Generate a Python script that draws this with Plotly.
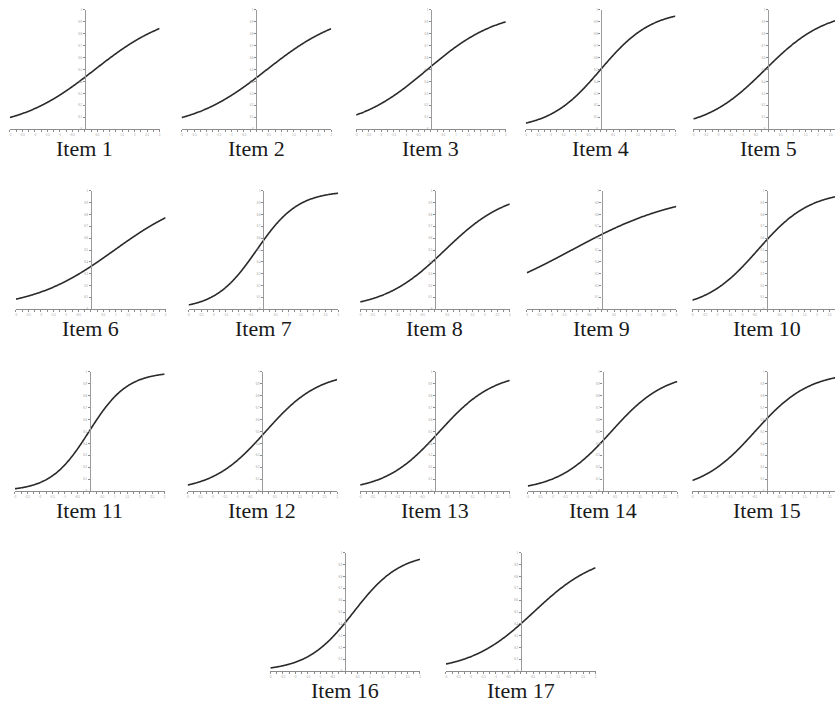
import numpy as np
import plotly.graph_objects as go

# Item characteristic curves (2PL logistic) for 17 items
item_labels = [f"Item {i}" for i in range(1, 18)]
discrimination = [0.65, 0.65, 0.70, 0.97, 0.82, 0.60, 1.20, 0.80, 0.45, 0.95,
                  1.30, 0.93, 0.91, 0.92, 0.92, 1.07, 0.78]
difficulty = [0.40, 0.42, -0.15, 0.00, -0.12, 0.95, -0.27, 0.40, -1.20, -0.38,
              -0.03, 0.13, 0.18, 0.35, -0.49, 0.34, 0.52]

theta = np.linspace(-3, 3, 241)
x_tick_vals = [-3, -2.5, -2, -1.5, -1, -0.5, 0.5, 1, 1.5, 2, 2.5, 3]
y_tick_vals = [0, 0.1, 0.2, 0.3, 0.4, 0.5, 0.6, 0.7, 0.8, 0.9, 1]

# Panel grid in pixels: (top, bottom) per row, x of the theta=0 line per panel
W, H = 836, 704
row_extent = [(8, 128), (190, 309), (372, 492), (554, 673)]
row_centres = [[84, 256, 431, 601, 769],
               [90, 263, 435, 602, 768],
               [89, 262, 435, 603, 768],
               [345, 521]]
HALF_W = 75  # pixels from theta=0 to theta=+/-3

fig = go.Figure()
annotations = []
layout_axes = {}

k = 0
for r, centres in enumerate(row_centres):
    top, bottom = row_extent[r]
    for cx in centres:
        a, b = discrimination[k], difficulty[k]
        p = 1.0 / (1.0 + np.exp(-a * (theta - b)))
        n = k + 1
        xa = "x" if n == 1 else f"x{n}"
        ya = "y" if n == 1 else f"y{n}"
        fig.add_trace(go.Scatter(x=theta, y=p, mode="lines",
                                 line=dict(color="#2a2a2a", width=1.6,
                                           simplify=False),
                                 xaxis=xa, yaxis=ya, hoverinfo="skip",
                                 showlegend=False))
        x0, x1 = cx - HALF_W, cx + HALF_W
        xmax = 3.0
        if x1 > W:
            xmax = -3 + (W - x0) * 6.0 / (2 * HALF_W)
            x1 = W
        xkey = "xaxis" if n == 1 else f"xaxis{n}"
        ykey = "yaxis" if n == 1 else f"yaxis{n}"
        layout_axes[xkey] = dict(
            domain=[x0 / W, x1 / W], range=[-3, xmax], anchor=ya,
            showgrid=False, zeroline=False, showline=True,
            linecolor="#8c8c8c", linewidth=1.2,
            ticks="outside", ticklen=2, tickcolor="#8c8c8c", tickwidth=1,
            tickvals=x_tick_vals, ticktext=[str(v) for v in x_tick_vals],
            ticklabelstandoff=0,
            tickfont=dict(size=3, color="#888", family="Liberation Serif"),
            minor=dict(dtick=0.25, ticks="outside", ticklen=1.5,
                       tickcolor="#8c8c8c", showgrid=False),
            fixedrange=True)
        layout_axes[ykey] = dict(
            domain=[1 - bottom / H, 1 - top / H], range=[0, 1],
            anchor="free", position=cx / W,
            showgrid=False, zeroline=False, showline=True,
            linecolor="#9a9a9a", linewidth=1.4,
            ticks="outside", ticklen=2, tickcolor="#8c8c8c", tickwidth=1,
            tickvals=y_tick_vals, ticktext=[f"{v:g}" for v in y_tick_vals],
            tickfont=dict(size=3, color="#888", family="Liberation Serif"),
            fixedrange=True)
        annotations.append(dict(
            text=item_labels[k], x=cx / W,
            y=1 - (bottom + 19) / H, xref="paper", yref="paper",
            xanchor="center", yanchor="middle", showarrow=False,
            font=dict(family="Liberation Serif", size=22, color="#1a1a1a")))
        k += 1

fig.update_layout(width=W, height=H, margin=dict(l=0, r=0, t=0, b=0),
                  paper_bgcolor="white", plot_bgcolor="white",
                  annotations=annotations, **layout_axes)

fig.write_html("out.html")
